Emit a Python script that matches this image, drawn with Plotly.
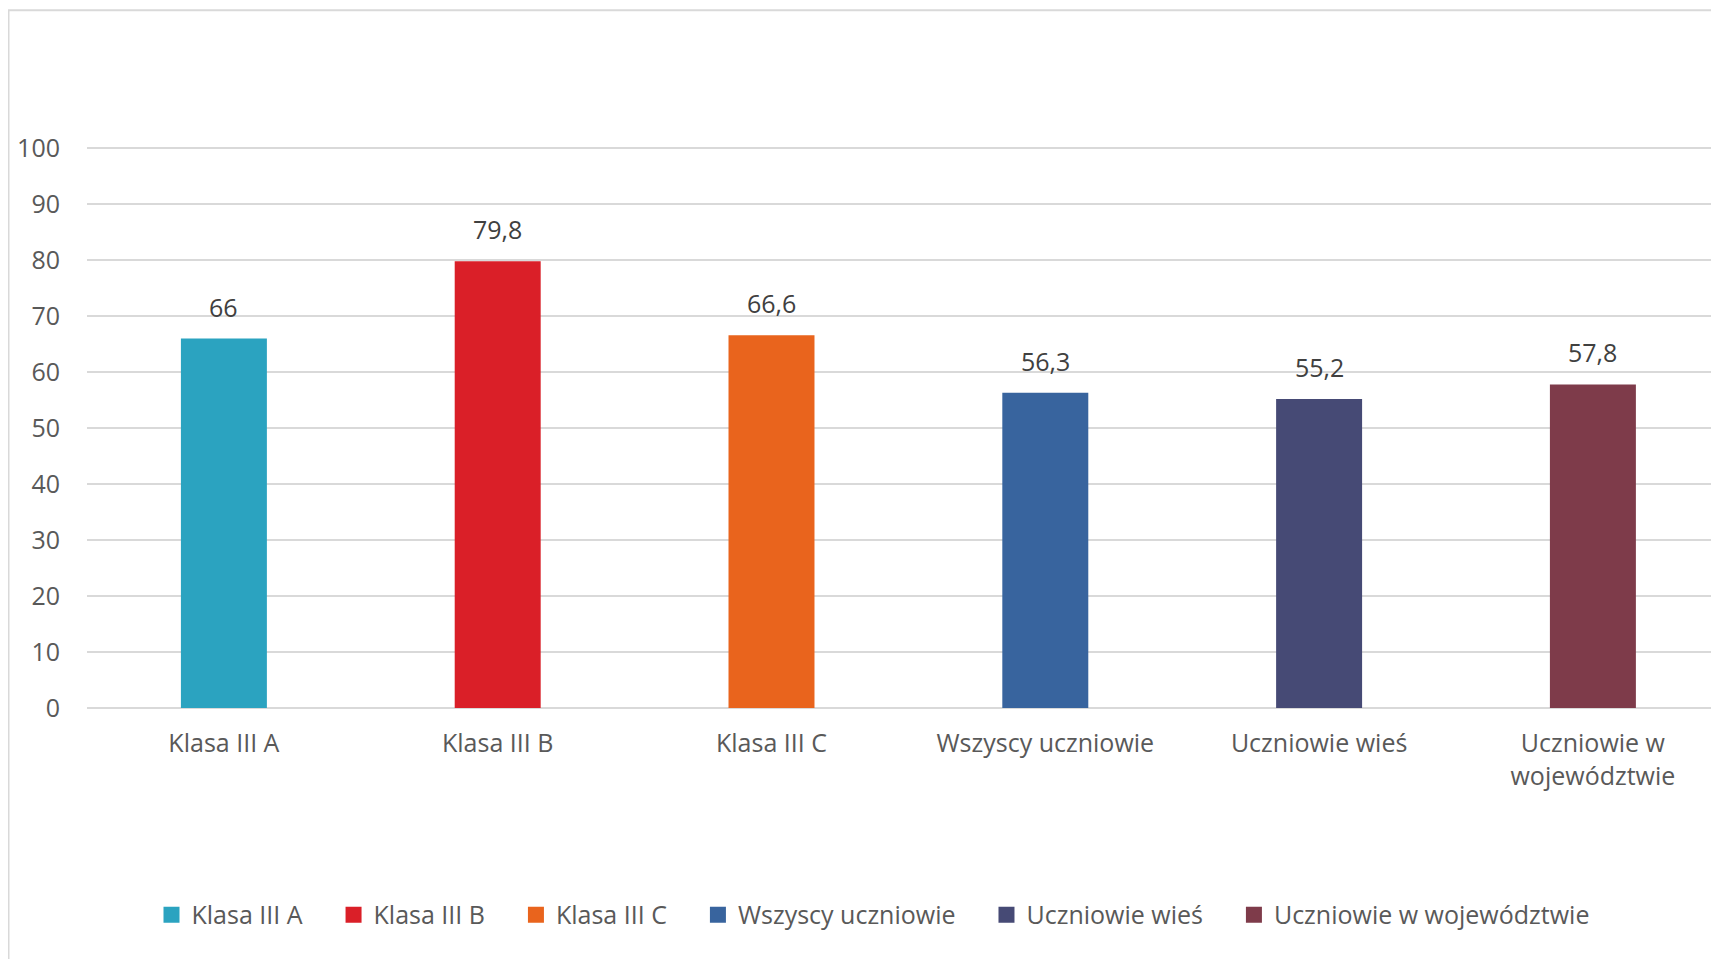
import plotly.graph_objects as go

categories = ["Klasa III A", "Klasa III B", "Klasa III C", "Wszyscy uczniowie", "Uczniowie wieś", "Uczniowie w województwie"]
tick_labels = ["Klasa III A", "Klasa III B", "Klasa III C", "Wszyscy uczniowie", "Uczniowie wieś", "Uczniowie w<br>województwie"]
values = [66, 79.8, 66.6, 56.3, 55.2, 57.8]
colors = ["#2BA3C0", "#DA1F28", "#E9641D", "#38649E", "#464A75", "#7E3B4A"]

# page has an 8px body margin; figure coords = page coords - 8
W, H = 1711, 951
L, R = 79, 0
ZERO_Y = 700          # figure y of value 0
PX_PER_UNIT = 5.6
YMAX = 102
T = ZERO_Y - YMAX * PX_PER_UNIT
B = H - ZERO_Y
FONT = "Open Sans"
FS = 25
TXT = "#595959"

def fmt(v):
    return f"{v:g}".replace(".", ",")

fig = go.Figure()
for i, (c, v, col) in enumerate(zip(categories, values, colors)):
    fig.add_trace(go.Bar(
        x=[i], y=[v], name=c, marker=dict(color=col, line=dict(width=0)),
        width=0.314, showlegend=False, legendgroup=c,
    ))
    fig.add_annotation(x=i, y=v, text=fmt(v), showarrow=False, yshift=32,
                       font=dict(family=FONT, size=FS, color="#404040"))

# legend entries (square swatches)
for c, col in zip(categories, colors):
    fig.add_trace(go.Scatter(
        x=[None], y=[None], mode="markers", name=c + "\u00a0" * 4, legendgroup=c,
        marker=dict(symbol="square", size=16, color=col, line=dict(width=0)),
        showlegend=True, hoverinfo="skip",
    ))

PW = W - L - R
band = 273.8
xr1 = -0.5 + PW / band
PH = YMAX * PX_PER_UNIT

fig.update_layout(
    width=W, height=H,
    margin=dict(l=L, r=R, t=T, b=B, pad=0),
    paper_bgcolor="white", plot_bgcolor="white",
    barmode="overlay",
    font=dict(family=FONT, size=FS, color=TXT),
    xaxis=dict(
        range=[-0.5, xr1], tickmode="array", tickvals=list(range(len(categories))),
        ticktext=tick_labels, showgrid=False, zeroline=False, showline=False,
        ticks="outside", ticklen=13, tickcolor="rgba(0,0,0,0)",
        tickfont=dict(family=FONT, size=FS, color=TXT),
    ),
    yaxis=dict(
        range=[0, YMAX], dtick=10, tick0=0, showgrid=True, gridcolor="#D9D9D9", gridwidth=2,
        zeroline=True, zerolinecolor="#D9D9D9", zerolinewidth=2, showline=False,
        ticks="outside", ticklen=21, tickcolor="rgba(0,0,0,0)",
        tickvals=list(range(0, 101, 10)),
        tickfont=dict(family=FONT, size=FS, color=TXT),
    ),
    legend=dict(
        orientation="h", x=(878 - L) / PW, xanchor="center",
        y=(ZERO_Y - 907) / PH, yanchor="middle", itemsizing="trace",
        font=dict(family=FONT, size=FS, color=TXT), traceorder="normal",
    ),
    shapes=[dict(type="rect", xref="paper", yref="paper",
                 x0=(0.5 - L) / PW, x1=1.05,
                 y0=-0.8, y1=(ZERO_Y - 2) / PH,
                 line=dict(color="#D9D9D9", width=2), fillcolor="rgba(0,0,0,0)", layer="below")],
)

fig.write_html("out.html")
